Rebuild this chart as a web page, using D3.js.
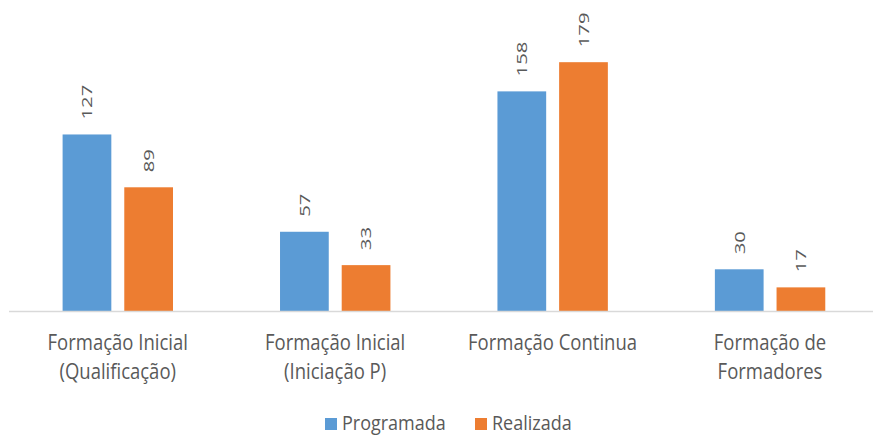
<!DOCTYPE html>
<html>
<head>
<meta charset="utf-8">
<script src="https://cdn.jsdelivr.net/npm/d3@7"></script>
<style>
  body { margin: 0; background: #fff; }
  svg { display: block; font-family: "Open Sans", "Noto Sans", sans-serif; }
</style>
</head>
<body>
<svg id="chart" width="873" height="435"></svg>
<script>
// data
const categories = [
  ["Formação Inicial", "(Qualificação)"],
  ["Formação Inicial", "(Iniciação P)"],
  ["Formação Continua"],
  ["Formação de", "Formadores"]
];
const seriesNames = ["Programada", "Realizada"];
const programada = [127, 57, 158, 30];
const realizada = [89, 33, 179, 17];
const colors = ["#5b9bd5", "#ed7d31"];

const textColor = "#595959";
const baseY = 311;

const svg = d3.select("#chart");

const x = d3.scaleBand()
  .domain(d3.range(categories.length))
  .range([9, 878.7]);

const xInner = d3.scaleBand()
  .domain(seriesNames)
  .range([53.6, 164])
  .paddingInner(0.21);

const y = d3.scaleLinear()
  .domain([0, 200])
  .range([baseY, 33]);

const rows = categories.map((c, i) => ({ idx: i, values: [programada[i], realizada[i]] }));

// bars
const groups = svg.append("g").selectAll("g")
  .data(rows)
  .enter().append("g")
  .attr("transform", d => "translate(" + x(d.idx) + ",0)");

groups.selectAll("rect")
  .data(d => d.values.map((v, j) => ({ name: seriesNames[j], v: v, j: j })))
  .enter().append("rect")
  .attr("x", d => xInner(d.name))
  .attr("width", xInner.bandwidth())
  .attr("y", d => y(d.v))
  .attr("height", d => y(0) - y(d.v))
  .attr("fill", d => colors[d.j]);

// value labels (rotated)
groups.selectAll("text")
  .data(d => d.values.map((v, j) => ({ name: seriesNames[j], v: v, j: j })))
  .enter().append("text")
  .attr("transform", d => "translate(" + (xInner(d.name) + xInner.bandwidth() / 2) + "," + (y(d.v) - 15) + ") rotate(-90) scale(1.35,1)")
  .attr("dy", "0.36em")
  .attr("font-size", 15)
  .attr("fill", textColor)
  .text(d => d.v);

// axis line
svg.append("line")
  .attr("x1", 9).attr("x2", 873)
  .attr("y1", baseY + 0.5).attr("y2", baseY + 0.5)
  .attr("stroke", "#d9d9d9")
  .attr("stroke-width", 1.5);

// category labels
const catG = svg.append("g").selectAll("text")
  .data(rows)
  .enter().append("text")
  .attr("text-anchor", "middle")
  .attr("fill", textColor)
  .attr("font-size", 18.5)
  .attr("transform", d => "translate(" + (x(d.idx) + x.bandwidth() / 2) + ",350) scale(1,1.15)");

catG.selectAll("tspan")
  .data(d => categories[d.idx])
  .enter().append("tspan")
  .attr("x", 0)
  .attr("y", (d, i) => i * 25)
  .text(d => d);

// legend
const legendItems = [
  { name: seriesNames[0], color: colors[0], x: 325 },
  { name: seriesNames[1], color: colors[1], x: 475 }
];
const leg = svg.append("g").selectAll("g")
  .data(legendItems)
  .enter().append("g")
  .attr("transform", d => "translate(" + d.x + ",417)");
leg.append("rect")
  .attr("y", 1)
  .attr("width", 12).attr("height", 12)
  .attr("fill", d => d.color);
leg.append("text")
  .attr("x", 17)
  .attr("y", 12)
  .attr("fill", textColor)
  .attr("font-size", 18)
  .attr("transform", "scale(1,1.1)")
  .text(d => d.name);
</script>
</body>
</html>
